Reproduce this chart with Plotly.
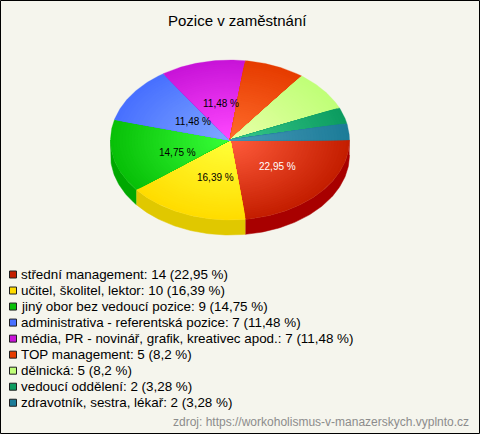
import math
import plotly.graph_objects as go

title = "Pozice v zaměstnání"
source = "zdroj: https://workoholismus-v-manazerskych.vyplnto.cz"
categories = ["střední management", "učitel, školitel, lektor", "jiný obor bez vedoucí pozice",
              "administrativa - referentská pozice", "média, PR - novinář, grafik, kreativec apod.",
              "TOP management", "dělnická", "vedoucí oddělení", "zdravotník, sestra, lékař"]
counts = [14, 10, 9, 7, 7, 5, 5, 2, 2]
percent_text = ["22,95", "16,39", "14,75", "11,48", "11,48", "8,2", "8,2", "3,28", "3,28"]
outer_colors = ["#c41e00", "#ffdc00", "#08c008", "#4870ff", "#c814d8", "#e63c00", "#c0ff78", "#0c9c60", "#1c7c98"]
inner_colors = ["#ff5c3c", "#ffff38", "#38ff38", "#80a8ff", "#ff48ff", "#ff6c2c", "#e8ffa8", "#38c88c", "#4898b8"]
side_colors = ["#a80000", "#e0c800", "#00a800", "#3050c0", "#9000a0", "#b03000", "#90c050", "#087040", "#105868"]
label_pos = {0: (277.5, 166), 1: (215, 177), 2: (177, 152), 3: (193, 121), 4: (221, 103)}
label_colors = {0: "#ffffff", 1: "#000000", 2: "#000000", 3: "#000000", 4: "#000000"}

W, H = 480, 434
CX, CY, RX, RY, DEPTH = 230, 140, 119.5, 80, 15
BG = "#f5f5ed"
FONT = "Liberation Sans, Arial, sans-serif"
LAYERS = 40

def hex2rgb(c):
    return [int(c[i:i + 2], 16) for i in (1, 3, 5)]

def mix(a, b, t):
    ra, rb = hex2rgb(a), hex2rgb(b)
    return "rgb(%d,%d,%d)" % tuple(round(x + (y - x) * t) for x, y in zip(ra, rb))

def arc(a0, a1, scale=1.0, dy=0.0):
    n = max(3, int((a1 - a0) * 60))
    xs = [CX + scale * RX * math.cos(a0 + (a1 - a0) * i / n) for i in range(n + 1)]
    ys = [CY + dy + scale * RY * math.sin(a0 + (a1 - a0) * i / n) for i in range(n + 1)]
    return xs, ys

total = sum(counts)
angles = [0.0]
for c in counts:
    angles.append(angles[-1] + 2 * math.pi * c / total)

fig = go.Figure()

# side walls (front half only)
for i, c in enumerate(side_colors):
    a0, a1 = angles[i], min(angles[i + 1], math.pi)
    if a0 >= math.pi:
        continue
    xt, yt = arc(a0, a1)
    xb, yb = arc(a0, a1, dy=DEPTH)
    fig.add_trace(go.Scatter(x=xt + xb[::-1], y=yt + yb[::-1], mode="lines", fill="toself",
                             fillcolor=c, line=dict(color=c, width=0.5), hoverinfo="skip", showlegend=False))

# top faces: nested wedges give the radial gradient
for i in range(len(counts)):
    for k in range(LAYERS):
        t = k / (LAYERS - 1)
        s = 1 - k / LAYERS
        col = mix(outer_colors[i], inner_colors[i], t)
        xs, ys = arc(angles[i], angles[i + 1], scale=s)
        fig.add_trace(go.Scatter(x=[CX] + xs + [CX], y=[CY] + ys + [CY], mode="lines", fill="toself",
                                 fillcolor=col, line=dict(color=col, width=0.3),
                                 hoverinfo="skip", showlegend=False))

# legend swatches
legend_y = [274.5 + 16.03 * i for i in range(len(categories))]
fig.add_trace(go.Scatter(x=[13] * len(categories), y=legend_y, mode="markers",
                         marker=dict(symbol="square", size=7, color=outer_colors,
                                     line=dict(color="#202020", width=1)),
                         hoverinfo="skip", showlegend=False))

ann = []
for i, (x, y) in label_pos.items():
    ann.append(dict(x=x, y=y, text=f"{percent_text[i]} %", showarrow=False, xanchor="center", yanchor="middle",
                    font=dict(family=FONT, size=10, color=label_colors[i])))
for i, cat in enumerate(categories):
    ann.append(dict(x=20, y=legend_y[i], text=f"{cat}: {counts[i]} ({percent_text[i]} %)", showarrow=False,
                    xanchor="left", yanchor="middle", font=dict(family=FONT, size=13.4, color="#000000")))
ann.append(dict(x=237, y=20, text=title, showarrow=False, xanchor="center", yanchor="middle",
                font=dict(family=FONT, size=15, color="#000000")))
ann.append(dict(x=470, y=421.5, text=source, showarrow=False, xanchor="right", yanchor="middle",
                font=dict(family=FONT, size=12, color="#8c8c8c")))
for a in ann:
    a["xref"] = "x"
    a["yref"] = "y"
    a["borderpad"] = 0

fig.update_layout(
    width=W, height=H, margin=dict(l=0, r=0, t=0, b=0), autosize=False,
    paper_bgcolor=BG, plot_bgcolor=BG, showlegend=False, annotations=ann,
    xaxis=dict(range=[0, W], visible=False, fixedrange=True),
    yaxis=dict(range=[H, 0], visible=False, fixedrange=True),
    shapes=[dict(type="rect", xref="x", yref="y", x0=0.5, y0=0.5, x1=W - 0.5, y1=H - 0.5,
                 line=dict(color="#000000", width=1), fillcolor="rgba(0,0,0,0)")],
)
fig.write_html("out.html", include_plotlyjs=True, config={"displayModeBar": False},
               post_script="document.body.style.margin='0';document.body.style.overflow='hidden';")
